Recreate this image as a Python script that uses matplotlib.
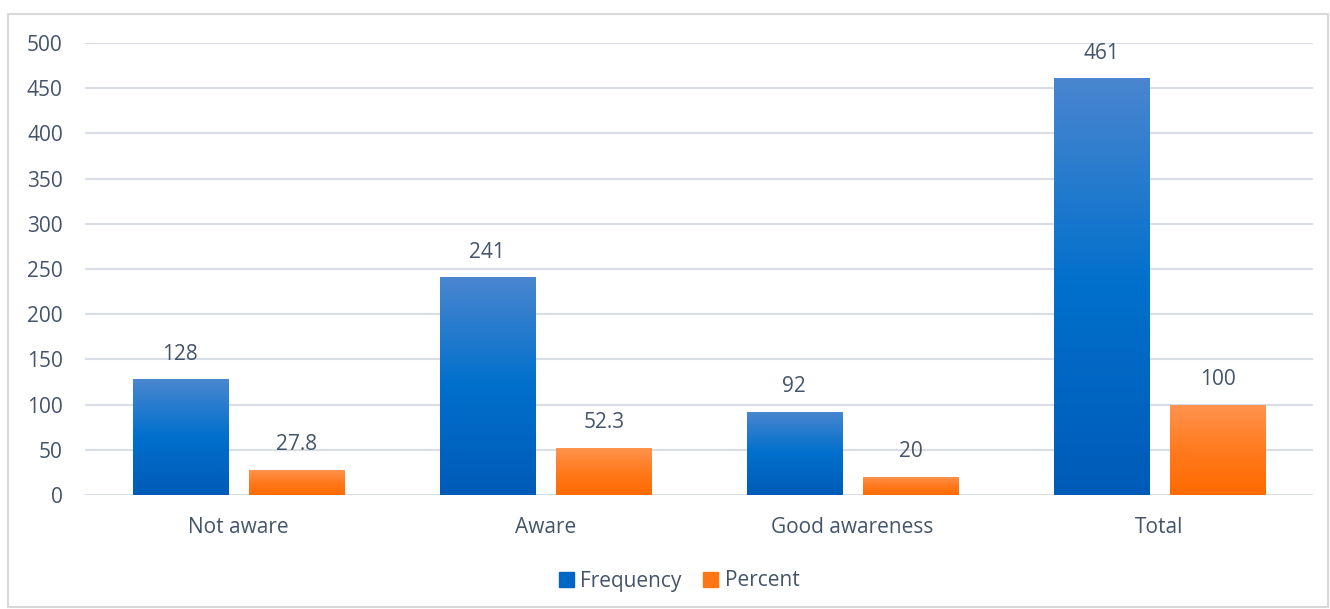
import numpy as np
import matplotlib.pyplot as plt
from matplotlib.colors import LinearSegmentedColormap
from matplotlib.patches import Rectangle

categories = ["Not aware", "Aware", "Good awareness", "Total"]
frequency = [128, 241, 92, 461]
percent = [27.8, 52.3, 20, 100]
freq_labels = ["128", "241", "92", "461"]
pct_labels = ["27.8", "52.3", "20", "100"]

TXT = "#44546A"
FS = 15
plt.rcParams['font.family'] = ['Open Sans', 'DejaVu Sans']

fig = plt.figure(figsize=(13.3, 6.09), dpi=100)
ax = fig.add_axes([85/1330, 1 - 495/609, (1313 - 85)/1330, (495 - 43)/609])

# outer chart frame
fig.patches.append(Rectangle((8/1330, 2/609), 1320/1330, 593/609, transform=fig.transFigure,
                             fill=False, edgecolor="#D9D9D9", linewidth=1.5))

blue_cmap = LinearSegmentedColormap.from_list("b", ["#005BB8", "#0070CC", "#4A86D0"])
orange_cmap = LinearSegmentedColormap.from_list("o", ["#FF6A00", "#FF7A1E", "#FF9450"])

x = np.arange(len(categories))
w = 0.31
off = 0.19

def grad_bars(xs, vals, cmap, labels):
    bars = ax.bar(xs, vals, width=w, color=cmap(0.5), zorder=3)
    grad = np.linspace(0, 1, 256).reshape(-1, 1)
    for b, lab in zip(bars, labels):
        x0, y0 = b.get_x(), b.get_y()
        h = b.get_height()
        im = ax.imshow(grad, cmap=cmap, origin="lower", aspect="auto",
                       extent=[x0, x0 + b.get_width(), y0, y0 + h], zorder=4)
        im.set_clip_path(b)
        ax.annotate(lab, (x0 + b.get_width()/2, h), xytext=(0, 18), textcoords="offset points",
                    ha="center", va="center", fontsize=FS, color=TXT)
    return bars

b1 = grad_bars(x - off, frequency, blue_cmap, freq_labels)
b2 = grad_bars(x + off, percent, orange_cmap, pct_labels)

ax.set_xlim(-0.5, 3.5)
ax.set_ylim(0, 500)
ax.set_yticks(range(0, 501, 50))
ax.set_xticks(x)
ax.set_xticklabels(categories)
ax.tick_params(axis="both", length=0, labelsize=FS, labelcolor=TXT)
ax.tick_params(axis="y", pad=16)
ax.tick_params(axis="x", pad=16)
ax.grid(axis="y", color="#D9DEE6", linewidth=1.5, zorder=0)
ax.set_axisbelow(True)
for s in ax.spines.values():
    s.set_visible(False)

h1 = Rectangle((0, 0), 1, 1, color="#0066C6")
h2 = Rectangle((0, 0), 1, 1, color="#FF7514")
fig.legend([h1, h2], ["Frequency", "Percent"], loc="center", bbox_to_anchor=(0.5105, 1 - 581/609),
           ncol=2, frameon=False, fontsize=FS, labelcolor=TXT, handlelength=0.75, handleheight=0.75,
           handletextpad=0.3, columnspacing=1.0)

fig.savefig("out.png", dpi=100)
